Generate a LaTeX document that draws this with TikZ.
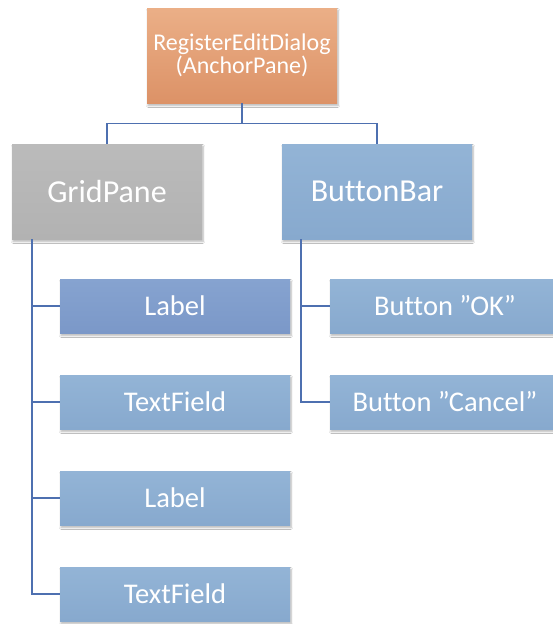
\documentclass[tikz,border=0pt]{standalone}
\usepackage{fontspec}
\setmainfont{Carlito}[Ligatures=NoCommon]
\usetikzlibrary{shadows.blur,calc}

\definecolor{rootTop}{HTML}{EBAF87}
\definecolor{rootBot}{HTML}{DC9267}
\definecolor{greyTop}{HTML}{BBBBBB}
\definecolor{greyBot}{HTML}{B2B2B2}
\definecolor{blueTop}{HTML}{93B4D6}
\definecolor{blueBot}{HTML}{87A9CE}
\definecolor{deepTop}{HTML}{86A3D0}
\definecolor{deepBot}{HTML}{7B98C8}
\definecolor{wire}{HTML}{4E70B0}

\begin{document}
\begin{tikzpicture}[x=1pt,y=-1pt,
  box/.style={rectangle, inner sep=0pt, text=white, align=center,
    blur shadow={shadow xshift=1pt, shadow yshift=-2.5pt, shadow blur steps=6, shadow opacity=30}},
  rootbox/.style={box, top color=rootTop, bottom color=rootBot,
    minimum width=190pt, minimum height=95pt,
    font=\fontsize{24}{23}\selectfont},
  panebox/.style={box, minimum width=190pt, minimum height=95pt,
    font=\fontsize{32}{36}\selectfont},
  leafbox/.style={box, top color=blueTop, bottom color=blueBot,
    minimum width=230pt, minimum height=54pt,
    font=\fontsize{28.5}{32}\selectfont},
  wireline/.style={draw=wire, line width=1.4pt}]

\useasboundingbox[fill=white] (0,0) rectangle (553,624);

% top level
\node[rootbox] (root) at (242,55.5) {RegisterEditDialog\\(AnchorPane)};

% containers
\node[panebox, top color=greyTop, bottom color=greyBot] (grid) at (107,191.5) {GridPane};
\node[panebox, top color=blueTop, bottom color=blueBot] (bar) at (377,191.5) {ButtonBar};

% grid children
\node[leafbox, top color=deepTop, bottom color=deepBot] (lab1) at (175,306) {Label};
\node[leafbox] (tf1) at (175,402) {TextField};
\node[leafbox] (lab2) at (175,498) {Label};
\node[leafbox] (tf2) at (175,594) {TextField};

% button bar children
\node[leafbox] (ok) at (445,306) {Button ”OK”};
\node[leafbox] (cancel) at (445,402) {Button ”Cancel”};

% connectors
\draw[wireline] (root.south) -- ++(0,20) coordinate (bus);
\draw[wireline] (bus) -| (grid.north);
\draw[wireline] (bus) -| (bar.north);

\coordinate (gstem) at ($(grid.south west)+(20,0)$);
\foreach \c in {lab1,tf1,lab2,tf2}
  \draw[wireline] (gstem) |- (\c.west);

\coordinate (bstem) at ($(bar.south west)+(19,0)$);
\foreach \c in {ok,cancel}
  \draw[wireline] (bstem) |- (\c.west);
\end{tikzpicture}
\end{document}
